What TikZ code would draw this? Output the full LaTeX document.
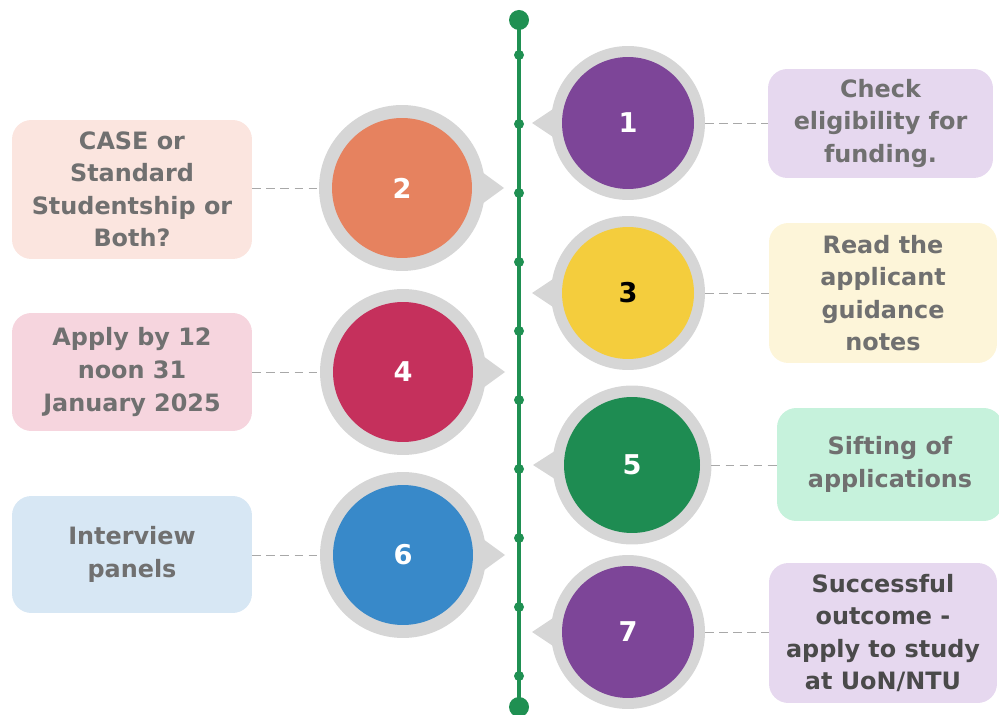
\documentclass[tikz,border=0pt]{standalone}
\usepackage{fontspec}
\setmainfont{DejaVu Sans}
\usetikzlibrary{calc}
\definecolor{ringgray}{HTML}{D6D6D6}
\definecolor{spinegreen}{HTML}{1F9052}
\definecolor{stepviolet}{HTML}{7D4598}
\definecolor{steporange}{HTML}{E6825F}
\definecolor{stepyellow}{HTML}{F4CD3D}
\definecolor{stepcrimson}{HTML}{C5305C}
\definecolor{stepgreen}{HTML}{1E8C52}
\definecolor{stepblue}{HTML}{3889C9}
\definecolor{boxlilac}{HTML}{E6D8EF}
\definecolor{boxpeach}{HTML}{FBE5DF}
\definecolor{boxcream}{HTML}{FDF5D9}
\definecolor{boxpink}{HTML}{F6D5DE}
\definecolor{boxmint}{HTML}{C6F2DC}
\definecolor{boxsky}{HTML}{D7E7F4}
\definecolor{boxtext}{HTML}{707070}
\definecolor{darktext}{HTML}{4A4A4A}
\definecolor{linkgray}{HTML}{A8A8A8}

\begin{document}
\begin{tikzpicture}[x=0.02cm,y=-0.02cm,
    infobox/.style={rounded corners=11pt, inner sep=0pt, align=center,
      text=boxtext, font=\bfseries\fontsize{13.6}{18.5}\selectfont},
    ring/.style={circle, fill=ringgray, inner sep=0pt, outer sep=0pt},
    disc/.style={circle, inner sep=0pt, outer sep=0pt, text=white,
      font=\bfseries\fontsize{15.5}{17}\selectfont},
    link/.style={linkgray, dash pattern=on 5pt off 3pt, line width=0.5pt}]
  \useasboundingbox (0,0) rectangle (999,715);

  % timeline
  \coordinate (top) at (519,20);
  \coordinate (bot) at (519,707);
  \draw[spinegreen, line width=2.4pt] (top) -- (bot);
  \fill[spinegreen] (top) circle (0.2cm);
  \fill[spinegreen] (bot) circle (0.2cm);
  \foreach \y in {55,124,...,676}
    \fill[spinegreen] (519,\y) circle (0.1cm);

  % step 1
  \fill[ringgray] (628-72,123-16) -- (532,123) -- (628-72,123+16) -- cycle;
  \node[ring, minimum size=3.08cm] (r1) at (628,123) {};
  \node[disc, fill=stepviolet, minimum size=2.64cm] (c1) at (r1) {1};
  \node[infobox, fill=boxlilac, minimum width=4.5cm, minimum height=2.18cm]
    (b1) at (880.5,123.5) {Check\\eligibility for\\funding.};
  \draw[link] (r1.east) -- (r1.east -| b1.west);

  % step 2
  \fill[ringgray] (402+80,188-16) -- (504,188) -- (402+80,188+16) -- cycle;
  \node[ring, minimum size=3.32cm] (r2) at (402,188) {};
  \node[disc, fill=steporange, minimum size=2.8cm] (c2) at (r2) {2};
  \node[infobox, fill=boxpeach, minimum width=4.8cm, minimum height=2.78cm]
    (b2) at (132,189.5) {CASE or\\Standard\\Studentship or\\Both?};
  \draw[link] (b2.east |- r2.west) -- (r2.west);

  % step 3
  \fill[ringgray] (628-72,293-16) -- (532,293) -- (628-72,293+16) -- cycle;
  \node[ring, minimum size=3.08cm] (r3) at (628,293) {};
  \node[disc, fill=stepyellow, text=black, minimum size=2.64cm] (c3) at (r3) {3};
  \node[infobox, fill=boxcream, minimum width=4.56cm, minimum height=2.8cm]
    (b3) at (883,293) {Read the\\applicant\\guidance\\notes};
  \draw[link] (r3.east) -- (r3.east -| b3.west);

  % step 4
  \fill[ringgray] (403+80,372-16) -- (505,372) -- (403+80,372+16) -- cycle;
  \node[ring, minimum size=3.32cm] (r4) at (403,372) {};
  \node[disc, fill=stepcrimson, minimum size=2.8cm] (c4) at (r4) {4};
  \node[infobox, fill=boxpink, minimum width=4.8cm, minimum height=2.36cm]
    (b4) at (132,372) {Apply by 12\\noon 31\\January 2025};
  \draw[link] (b4.east |- r4.west) -- (r4.west);

  % step 5
  \fill[ringgray] (632-74,465-16) -- (533,465) -- (632-74,465+16) -- cycle;
  \node[ring, minimum size=3.18cm] (r5) at (632,465) {};
  \node[disc, fill=stepgreen, minimum size=2.72cm] (c5) at (r5) {5};
  \node[infobox, fill=boxmint, minimum width=4.52cm, minimum height=2.26cm]
    (b5) at (890,464.5) {Sifting of\\applications};
  \draw[link] (r5.east) -- (r5.east -| b5.west);

  % step 6
  \fill[ringgray] (403+80,555-16) -- (505,555) -- (403+80,555+16) -- cycle;
  \node[ring, minimum size=3.32cm] (r6) at (403,555) {};
  \node[disc, fill=stepblue, minimum size=2.8cm] (c6) at (r6) {6};
  \node[infobox, fill=boxsky, minimum width=4.8cm, minimum height=2.34cm]
    (b6) at (132,554.5) {Interview\\panels};
  \draw[link] (b6.east |- r6.west) -- (r6.west);

  % step 7
  \fill[ringgray] (628-72,632-16) -- (532,632) -- (628-72,632+16) -- cycle;
  \node[ring, minimum size=3.08cm] (r7) at (628,632) {};
  \node[disc, fill=stepviolet, minimum size=2.64cm] (c7) at (r7) {7};
  \node[infobox, fill=boxlilac, text=darktext, minimum width=4.56cm, minimum height=2.8cm]
    (b7) at (883,633) {Successful\\outcome -\\apply to study\\at UoN/NTU};
  \draw[link] (r7.east) -- (r7.east -| b7.west);
\end{tikzpicture}
\end{document}
